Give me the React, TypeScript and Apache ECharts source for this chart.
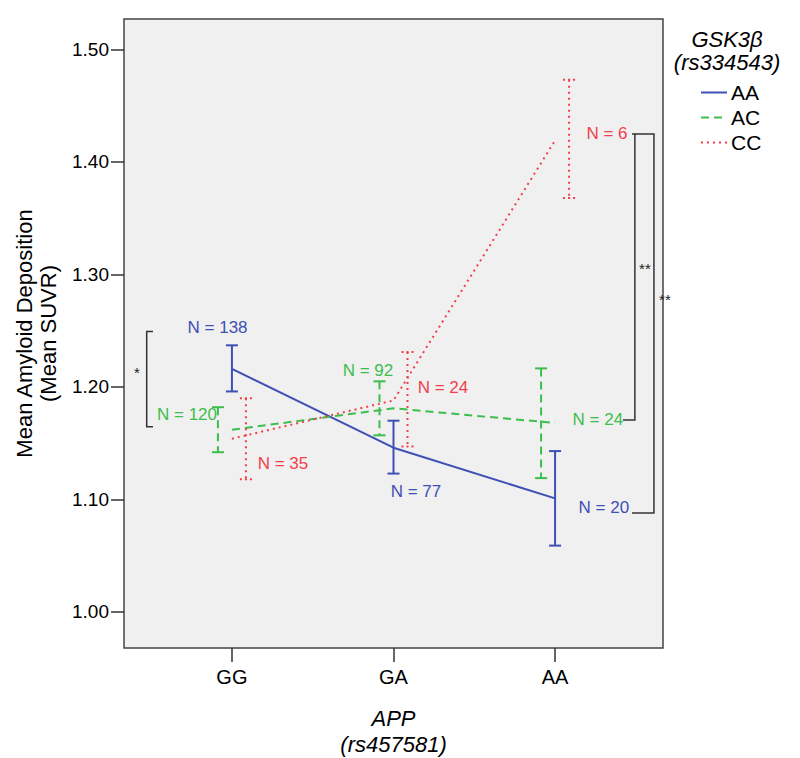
import React, { useEffect, useRef } from "react";
import * as echarts from "echarts";

// ---- data ----
const categories = ["GG", "GA", "AA"];
const groupNames = ["AA", "AC", "CC"];
const meanAA = [1.216, 1.146, 1.101];
const meanAC = [1.162, 1.181, 1.168];
const meanCC = [1.154, 1.188, 1.419];
const lowAA = [1.196, 1.123, 1.059];
const highAA = [1.237, 1.17, 1.143];
const lowAC = [1.142, 1.157, 1.119];
const highAC = [1.182, 1.205, 1.2165];
const lowCC = [1.118, 1.147, 1.368];
const highCC = [1.19, 1.231, 1.473];
const nAA = [138, 77, 20];
const nAC = [120, 92, 24];
const nCC = [35, 24, 6];
const yTicks = [1.0, 1.1, 1.2, 1.3, 1.4, 1.5];
const xTicks = [1, 2, 3];

// ---- layout (annotation placement in data coordinates) ----
const labelPosAA = [[0.911, 1.2525], [2.139, 1.1071], [3.302, 1.0933]];
const labelPosAC = [[0.722, 1.1756], [1.842, 1.2142], [3.265, 1.1707]];
const labelPosCC = [[1.316, 1.1324], [2.306, 1.1991], [3.321, 1.4249]];
const bracketPaths = [
  [[0.5115, 1.2492], [0.4725, 1.2492], [0.4725, 1.1647], [0.5115, 1.1647]],
  [[3.476, 1.4249], [3.494, 1.4249], [3.494, 1.1707], [3.42, 1.1707]],
  [[3.494, 1.4249], [3.612, 1.4249], [3.612, 1.088], [3.476, 1.088]],
];
const starPos = [[0.4125, 1.2124, "*"], [3.556, 1.3049, "**"], [3.68, 1.2773, "**"]];

const BLUE = "#3E4FB6";
const GREEN = "#3DBE4C";
const RED = "#F0404C";
const FONT = "'Liberation Sans', Arial, sans-serif";

const groups = [
  { name: groupNames[0], mean: meanAA, low: lowAA, high: highAA, n: nAA, pos: labelPosAA, color: BLUE, dash: null as any, offset: 0, capDash: null as any, lineType: "solid" as any },
  { name: groupNames[1], mean: meanAC, low: lowAC, high: highAC, n: nAC, pos: labelPosAC, color: GREEN, dash: [8, 5], offset: -14, capDash: null as any, lineType: [8, 5] as any },
  { name: groupNames[2], mean: meanCC, low: lowCC, high: highCC, n: nCC, pos: labelPosCC, color: RED, dash: [2, 4], offset: 14, capDash: [2, 3], lineType: [2, 4] as any },
];

export default function App() {
  const ref = useRef<HTMLDivElement>(null);
  useEffect(() => {
    if (!ref.current) return;
    const chart = echarts.init(ref.current, null, { renderer: "svg" });
    const series: any[] = [];
    groups.forEach((g) => {
      series.push({
        name: g.name,
        type: "line",
        symbol: "none",
        data: xTicks.map((x, i) => [x, g.mean[i]]),
        lineStyle: { color: g.color, width: 2, type: g.lineType },
        itemStyle: { color: g.color },
        z: 3,
      });
    });
    groups.forEach((g) => {
      series.push({
        type: "custom",
        name: g.name + "-err",
        clip: false,
        data: xTicks.map((x, i) => [x, g.low[i], g.high[i]]),
        encode: { x: 0, y: [1, 2] },
        renderItem: (params: any, api: any) => {
          const x = api.value(0);
          const lo = api.coord([x, api.value(1)]);
          const hi = api.coord([x, api.value(2)]);
          const cx = lo[0] + g.offset;
          const style = { stroke: g.color, lineWidth: 2, lineDash: g.dash, fill: null };
          const cap = { stroke: g.color, lineWidth: 2, lineDash: g.capDash, fill: null };
          return {
            type: "group",
            children: [
              { type: "line", shape: { x1: cx, y1: hi[1], x2: cx, y2: lo[1] }, style },
              { type: "line", shape: { x1: cx - 6, y1: hi[1], x2: cx + 6, y2: hi[1] }, style: cap },
              { type: "line", shape: { x1: cx - 6, y1: lo[1], x2: cx + 6, y2: lo[1] }, style: cap },
            ],
          };
        },
        z: 4,
      });
      series.push({
        type: "custom",
        name: g.name + "-n",
        clip: false,
        data: g.pos.map((p) => [p[0], p[1]]),
        encode: { x: 0, y: 1 },
        renderItem: (params: any, api: any) => {
          const c = api.coord([api.value(0), api.value(1)]);
          return {
            type: "text",
            x: c[0],
            y: c[1],
            style: {
              text: "N = " + g.n[params.dataIndex],
              fill: g.color,
              font: "17px " + FONT,
              align: "center",
              verticalAlign: "middle",
            },
          };
        },
        z: 5,
      });
    });
    series.push({
      type: "custom",
      name: "brackets",
      clip: false,
      data: bracketPaths.map((_, i) => [i, 1.2]),
      encode: { x: 0, y: 1 },
      renderItem: (params: any, api: any) => {
        const pts = bracketPaths[params.dataIndex].map((p) => api.coord(p));
        return {
          type: "polyline",
          shape: { points: pts },
          style: { stroke: "#333", lineWidth: 1.5, fill: null },
        };
      },
      z: 5,
    });
    series.push({
      type: "custom",
      name: "stars",
      clip: false,
      data: starPos.map((p) => [p[0], p[1]]),
      encode: { x: 0, y: 1 },
      renderItem: (params: any, api: any) => {
        const c = api.coord([api.value(0), api.value(1)]);
        return {
          type: "text",
          x: c[0],
          y: c[1],
          style: {
            text: starPos[params.dataIndex][2] as string,
            fill: "#222",
            font: "15px " + FONT,
            align: "center",
            verticalAlign: "middle",
          },
        };
      },
      z: 6,
    });

    chart.setOption({
      animation: false,
      textStyle: { fontFamily: FONT },
      grid: {
        left: 124,
        right: 137,
        top: 19,
        bottom: 110,
        show: true,
        backgroundColor: "#F0F0F0",
        borderColor: "#444",
        borderWidth: 1.5,
        containLabel: false,
        outerBoundsMode: "none",
      },
      xAxis: {
        type: "value",
        min: 0.332,
        max: 3.668,
        splitLine: { show: false },
        axisLine: { show: false },
        axisTick: { show: true, length: 14, customValues: xTicks, lineStyle: { color: "#333", width: 1.5 } },
        axisLabel: {
          customValues: xTicks,
          formatter: (v: number) => categories[Math.round(v) - 1] ?? "",
          fontSize: 20,
          color: "#000",
          margin: 19,
        },
        name: "APP\n(rs457581)",
        nameLocation: "middle",
        nameGap: 57,
        nameTextStyle: { fontSize: 22, fontStyle: "italic", color: "#000", lineHeight: 26, verticalAlign: "top" },
      },
      yAxis: {
        type: "value",
        min: 0.968,
        max: 1.527,
        splitLine: { show: false },
        axisLine: { show: false },
        axisTick: { show: true, length: 13, customValues: yTicks, lineStyle: { color: "#333", width: 1.5 } },
        axisLabel: {
          customValues: yTicks,
          formatter: (v: number) => v.toFixed(2),
          fontSize: 19,
          color: "#000",
          margin: 15,
        },
        name: "Mean Amyloid Deposition\n(Mean SUVR)",
        nameLocation: "middle",
        nameGap: 64,
        nameTextStyle: { fontSize: 22, color: "#000", lineHeight: 24 },
      },
      legend: {
        data: groupNames,
        orient: "vertical",
        left: 695,
        top: 77,
        itemWidth: 26,
        itemHeight: 10,
        itemGap: 4,
        itemStyle: { opacity: 0 },
        textStyle: { fontSize: 21, color: "#000", lineHeight: 20, padding: [0, 0, 0, -1] },
        selectedMode: false,
      },
      graphic: [
        {
          type: "text",
          x: 727,
          y: 28,
          style: {
            text: "GSK3β\n(rs334543)",
            font: "italic 22px " + FONT,
            fill: "#000",
            align: "center",
            lineHeight: 23,
          },
        },
      ],
      series,
    });
    return () => chart.dispose();
  }, []);
  return <div ref={ref} style={{ position: "fixed", left: 0, top: 0, width: 800, height: 758, background: "#fff" }} />;
}
